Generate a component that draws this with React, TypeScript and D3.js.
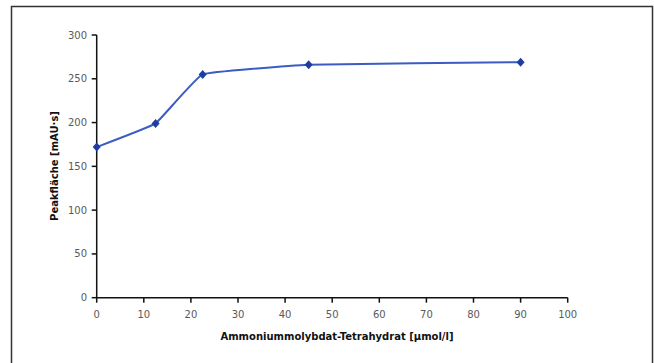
import React from "react";
import * as d3 from "d3";

const xValues = [0, 12.5, 22.5, 45, 90];
const yValues = [172, 199, 255, 266, 269];
const xTicks = [0, 10, 20, 30, 40, 50, 60, 70, 80, 90, 100];
const yTicks = [0, 50, 100, 150, 200, 250, 300];
const xTitle = "Ammoniummolybdat-Tetrahydrat [µmol/l]";
const yTitle = "Peakfläche [mAU·s]";

export default function App() {
  const W = 654, H = 363;
  const x = d3.scaleLinear().domain([0, 100]).range([96.7, 567.7]);
  const y = d3.scaleLinear().domain([0, 300]).range([297.7, 35]);
  const pts = xValues.map((v, i) => [x(v), y(yValues[i])] as [number, number]);
  const line = d3.line().curve(d3.curveCardinal.tension(0.75))(pts) || "";
  const font = "'DejaVu Sans', Verdana, sans-serif";
  return (
    <svg width={W} height={H} style={{ position: "absolute", left: 0, top: 0, background: "#fff" }}>
      <rect x={11.5} y={6.5} width={641} height={400} fill="none" stroke="#333" strokeWidth={1.5} />
      <line x1={x(0)} x2={x(0)} y1={y(300)} y2={y(0)} stroke="#111" strokeWidth={1.5} />
      <line x1={x(0)} x2={x(100)} y1={y(0)} y2={y(0)} stroke="#111" strokeWidth={1.5} />
      {yTicks.map((t) => (
        <g key={"y" + t}>
          <line x1={x(0) - 5} x2={x(0)} y1={y(t)} y2={y(t)} stroke="#111" strokeWidth={1.5} />
          <text x={87} y={y(t)} dy="0.35em" textAnchor="end" fontFamily={font} fontSize={10} fill="#5a5a5a">{t}</text>
        </g>
      ))}
      {xTicks.map((t) => (
        <g key={"x" + t}>
          <line x1={x(t)} x2={x(t)} y1={y(0)} y2={y(0) + 5} stroke="#111" strokeWidth={1.5} />
          <text x={x(t)} y={314} dy="0.35em" textAnchor="middle" fontFamily={font} fontSize={10} fill="#5a5a5a">{t}</text>
        </g>
      ))}
      <path d={line} fill="none" stroke="#3a5cc4" strokeWidth={2} />
      {pts.map(([px, py], i) => (
        <path key={i} d={`M${px},${py - 4.5}L${px + 4},${py}L${px},${py + 4.5}L${px - 4},${py}Z`} fill="#1f3d9e" />
      ))}
      <text x={337} y={336} dy="0.35em" textAnchor="middle" fontFamily={font} fontSize={10} fontWeight="bold" fill="#111">{xTitle}</text>
      <text transform={`translate(54,166) rotate(-90)`} dy="0.35em" textAnchor="middle" fontFamily={font} fontSize={10} fontWeight="bold" fill="#111">{yTitle}</text>
    </svg>
  );
}
